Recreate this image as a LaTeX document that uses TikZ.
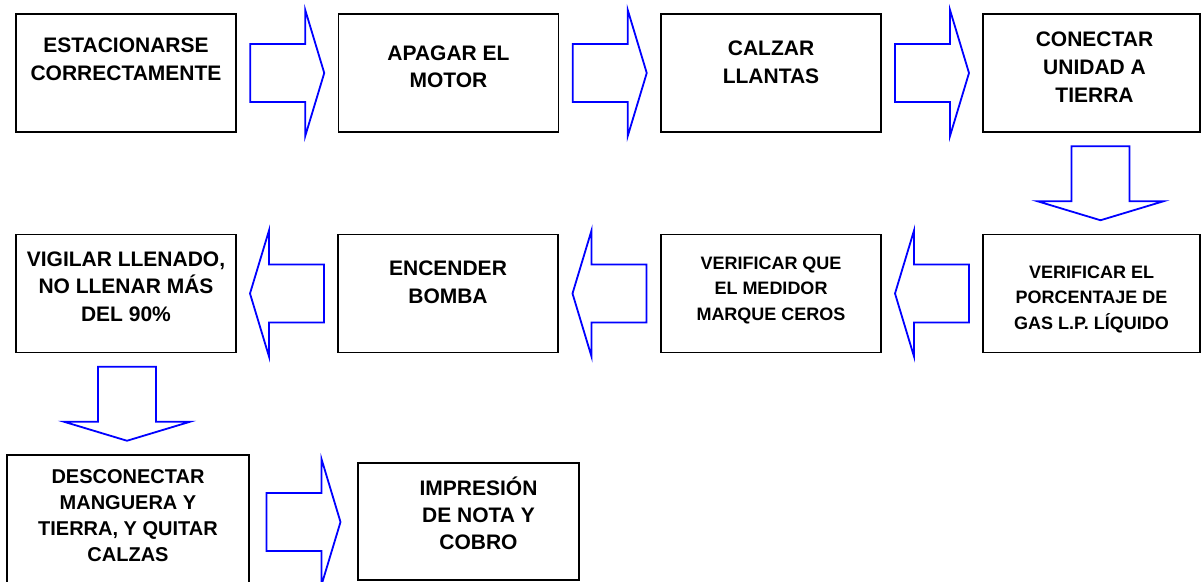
\documentclass[tikz,border=0pt]{standalone}
\usepackage{fontspec}
\setmainfont{Liberation Sans}
\usetikzlibrary{positioning,calc}

\begin{document}
\begin{tikzpicture}[x=1pt, y=-1pt, caja/.style={draw=black,line width=1.9pt,minimum width=220pt,minimum height=118pt,inner sep=0pt},texto/.style={font=\bfseries\fontsize{21}{28}\selectfont,align=center,inner sep=0pt},texto chico/.style={texto,font=\bfseries\fontsize{18}{25.5}\selectfont},flecha/.pic={\draw[blue,line width=1.8pt] (-37,-29) -- (18,-29) -- (18,-63) -- (37,0) -- (18,63) -- (18,29) -- (-37,29) -- cycle;}]
\useasboundingbox (0,0) rectangle (1201,581);
\clip (0,0) rectangle (1201,581);
\begin{scope}
\node[caja] (b1) at (126,73) {};
\node[caja] (b2) at (448.5,73) {};
\node[caja] (b3) at (771,73) {};
\node[caja, minimum width=217pt] (b4) at (1091.5,73) {};
\node[caja] (b5) at (126,293.5) {};
\node[caja] (b6) at (448,293.5) {};
\node[caja] (b7) at (771,293.5) {};
\node[caja, minimum width=217pt] (b8) at (1091.5,293.5) {};
\node[caja, minimum width=242pt, minimum height=135pt] (b9) at (128,522.5) {};
\node[caja, minimum width=221pt, minimum height=117pt] (b10) at (468.5,521.5) {};
\end{scope}
\begin{scope}
\node[texto, below=25pt of b1.north] (t1) {ESTACIONARSE\\CORRECTAMENTE};
\node[texto, below=33pt of b2.north, font=\bfseries\fontsize{21}{27}\selectfont] (t2) {APAGAR EL\\MOTOR};
\node[texto, below=28pt of b3.north] (t3) {CALZAR\\LLANTAS};
\node[texto, below=19pt of b4.north, xshift=3pt] (t4) {CONECTAR\\UNIDAD A\\TIERRA};
\node[texto, below=18pt of b5.north, font=\bfseries\fontsize{21}{27.5}\selectfont] (t5) {VIGILAR LLENADO,\\NO LLENAR MÁS\\DEL 90\%};
\node[texto, below=27pt of b6.north] (t6) {ENCENDER\\BOMBA};
\node[texto chico, below=23pt of b7.north] (t7) {VERIFICAR QUE\\EL MEDIDOR\\MARQUE CEROS};
\node[texto chico, below=32pt of b8.north] (t8) {VERIFICAR EL\\PORCENTAJE DE\\GAS L.P. LÍQUIDO};
\node[texto, below=15pt of b9.north, font=\bfseries\fontsize{20}{26}\selectfont] (t9) {DESCONECTAR\\MANGUERA Y\\TIERRA, Y QUITAR\\CALZAS};
\node[texto, below=15pt of b10.north, xshift=10pt, font=\bfseries\fontsize{21}{27}\selectfont] (t10) {IMPRESIÓN\\DE NOTA Y\\COBRO};
\end{scope}
% flechas
\pic at ($(b1.east)!.5!(b2.west)$) {flecha};
\pic at ($(b2.east)!.5!(b3.west)$) {flecha};
\pic at ($(b3.east)!.5!(b4.west)$) {flecha};
\pic[rotate=-90] at ($(b4.south)!.5!(b8.north)+(9,0)$) {flecha};
\pic[rotate=180] at ($(b8.west)!.5!(b7.east)$) {flecha};
\pic[rotate=180] at ($(b7.west)!.5!(b6.east)$) {flecha};
\pic[rotate=180] at ($(b6.west)!.5!(b5.east)$) {flecha};
\pic[rotate=-90] at ($(b5.south)!.5!(b9.north)$) {flecha};
\pic at ($(b9.east)!.5!(b10.west)$) {flecha};
\end{tikzpicture}
\end{document}
